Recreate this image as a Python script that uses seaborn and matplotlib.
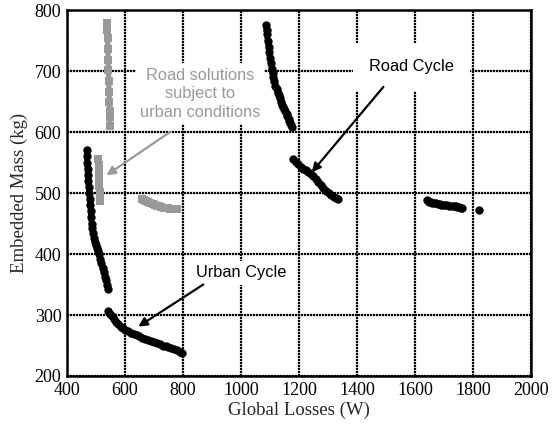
import matplotlib
matplotlib.use("Agg")
import matplotlib.pyplot as plt
import seaborn as sns
import pandas as pd

# Urban-cycle Pareto front (two branches)
urban_a_w = [468, 469, 470, 471, 472, 474, 475, 477, 479, 481, 482, 484, 485, 487, 490, 493, 496, 499, 503, 507, 511, 515, 519, 523, 527, 531, 535, 539, 542]
urban_a_kg = [571, 560, 550, 540, 530, 520, 510, 500, 490, 480, 470, 460, 450, 442, 435, 427, 420, 415, 410, 405, 400, 392, 385, 377, 370, 363, 357, 350, 343]
urban_b_w = [542, 548, 555, 562, 570, 577, 585, 592, 600, 610, 620, 630, 640, 650, 660, 670, 680, 690, 700, 710, 720, 730, 740, 750, 760, 770, 780, 789, 797]
urban_b_kg = [306, 302, 298, 293, 289, 285, 281, 278, 276, 273, 271, 269, 267, 265, 263, 261, 259, 257, 256, 254, 252, 250, 249, 247, 246, 244, 242, 240, 237]

# Road-cycle Pareto front (three branches + isolated point)
road_a_w = [1086, 1088, 1090, 1092, 1095, 1097, 1100, 1103, 1106, 1109, 1112, 1115, 1119, 1123, 1127, 1130, 1134, 1138, 1142, 1146, 1150, 1153, 1157, 1160, 1164, 1167, 1170, 1173, 1175]
road_a_kg = [775, 768, 760, 750, 740, 731, 722, 713, 704, 697, 690, 683, 676, 670, 664, 660, 655, 650, 645, 641, 637, 634, 630, 626, 622, 618, 615, 611, 608]
road_b_w = [1180, 1189, 1198, 1206, 1215, 1223, 1232, 1240, 1249, 1257, 1266, 1275, 1284, 1293, 1302, 1311, 1320, 1328, 1335]
road_b_kg = [556, 551, 547, 543, 539, 537, 534, 531, 528, 523, 518, 513, 509, 504, 500, 497, 494, 492, 490]
road_c_w = [1640, 1645, 1650, 1655, 1660, 1666, 1672, 1678, 1685, 1691, 1698, 1705, 1712, 1719, 1726, 1733, 1740, 1746, 1752, 1757, 1761]
road_c_kg = [488, 487, 486, 485, 484, 483, 483, 482, 482, 481, 481, 480, 480, 479, 479, 478, 478, 477, 477, 476, 476]
road_d_w = [1821]
road_d_kg = [472]

# Road solutions re-evaluated on the urban cycle
cross_a_w = [538, 539, 539, 540, 540, 541, 541, 541, 542, 542, 543, 543, 543, 544, 544, 545, 545, 545, 546, 546, 547, 547, 548, 549, 549]
cross_a_kg = [778, 771, 764, 757, 750, 743, 736, 729, 722, 715, 708, 701, 694, 687, 680, 673, 666, 659, 652, 645, 638, 631, 624, 615, 604]
cross_b_w = [508, 508, 509, 509, 510, 510, 511, 511, 511, 512, 512, 513, 513, 514, 514, 515]
cross_b_kg = [559, 554, 549, 544, 539, 534, 529, 524, 519, 514, 509, 504, 499, 494, 490, 487]
cross_c_w = [657, 665, 672, 680, 688, 695, 703, 710, 718, 725, 733, 740, 748, 755, 763, 770, 778]
cross_c_kg = [490, 489, 487, 485, 484, 482, 481, 479, 478, 477, 476, 475, 475, 474, 474, 473, 473]

x_ticks = [400, 600, 800, 1000, 1200, 1400, 1600, 1800, 2000]
y_ticks = [200, 300, 400, 500, 600, 700, 800]

sns.set_theme(style="white")
plt.rcParams["font.family"] = ["Liberation Serif", "DejaVu Serif"]

fig = plt.figure(figsize=(5.6, 4.28), dpi=100)
ax = fig.add_axes([0.1196, 0.1215, 0.8286, 0.855])

black_sets = [(urban_a_w, urban_a_kg), (urban_b_w, urban_b_kg),
              (road_a_w, road_a_kg), (road_b_w, road_b_kg),
              (road_c_w, road_c_kg), (road_d_w, road_d_kg)]
gray_sets = [(cross_a_w, cross_a_kg), (cross_b_w, cross_b_kg), (cross_c_w, cross_c_kg)]

for xs, ys in gray_sets:
    df = pd.DataFrame({"w": xs, "kg": ys})
    sns.lineplot(data=df, x="w", y="kg", sort=False, ax=ax, color="#999999",
                 linewidth=3.8, marker="s", markersize=5.5, markeredgewidth=0, zorder=3)

for xs, ys in black_sets:
    df = pd.DataFrame({"w": xs, "kg": ys})
    sns.lineplot(data=df, x="w", y="kg", sort=False, ax=ax, color="black",
                 linewidth=4.2 if len(xs) > 1 else 0, marker="o", markersize=6,
                 markeredgewidth=0, zorder=4)

ax.set_xlim(400, 2000)
ax.set_ylim(200, 800)
ax.set_xticks(x_ticks)
ax.set_yticks(y_ticks)
ax.tick_params(labelsize=13, length=0, pad=4, colors="black")
ax.grid(True, color="black", linestyle=(0, (1, 0.35)), linewidth=1.6, zorder=1)
ax.set_axisbelow(True)
for s in ax.spines.values():
    s.set_color("black")
    s.set_linewidth(1.8)
    s.set_zorder(5)

ax.set_xlabel("Global Losses (W)", fontsize=13.5, labelpad=2)
ax.set_ylabel("Embedded Mass (kg)", fontsize=13.5, labelpad=5)

sans = ["Liberation Sans", "DejaVu Sans"]

ax.text(859, 663, "Road solutions\nsubject to\nurban conditions", ha="center", va="center",
        fontsize=11.8, family=sans, color="#999999", linespacing=1.3, zorder=6,
        bbox=dict(boxstyle="square,pad=0.25", fc="white", ec="none"))
ax.text(1588, 707, "Road Cycle", ha="center", va="center", fontsize=11.8, family=sans,
        color="black", zorder=6,
        bbox=dict(boxstyle="square,pad=1.0", fc="white", ec="none"))
ax.text(1002, 369, "Urban Cycle", ha="center", va="center", fontsize=11.8, family=sans,
        color="black", zorder=6,
        bbox=dict(boxstyle="square,pad=0.3", fc="white", ec="none"))

arrow_kw = dict(arrowstyle="-|>", lw=1.6, mutation_scale=13, shrinkA=0, shrinkB=0)
ax.annotate("", xy=(536, 529), xytext=(755, 600),
            arrowprops=dict(color="#999999", **arrow_kw), zorder=6)
ax.annotate("", xy=(1244, 534), xytext=(1491, 674),
            arrowprops=dict(color="black", **arrow_kw), zorder=6)
ax.annotate("", xy=(646, 281), xytext=(870, 350),
            arrowprops=dict(color="black", **arrow_kw), zorder=6)

fig.savefig("out.png", dpi=100)
